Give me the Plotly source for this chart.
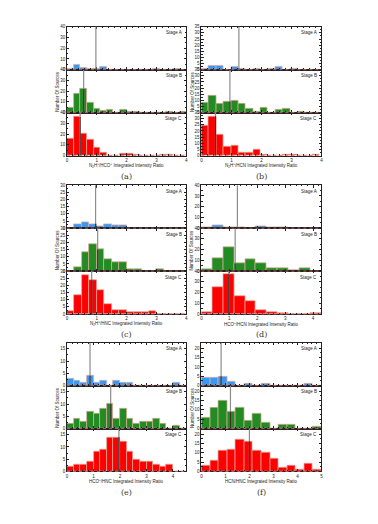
import plotly.graph_objects as go

# ---------------- data (counts per bin) ----------------
stages = ["Stage A", "Stage B", "Stage C"]
panel_labels = ["(a)", "(b)", "(c)", "(d)", "(e)", "(f)"]
x_titles = [
    "N<sub>2</sub>H<sup>+</sup>/HCO<sup>+</sup> Integrated Intensity Ratio",
    "N<sub>2</sub>H<sup>+</sup>/HCN Integrated Intensity Ratio",
    "N<sub>2</sub>H<sup>+</sup>/HNC Integrated Intensity Ratio",
    "HCO<sup>+</sup>/HCN Integrated Intensity Ratio",
    "HCO<sup>+</sup>/HNC Integrated Intensity Ratio",
    "HCN/HNC Integrated Intensity Ratio",
]

# bin widths per panel
bin_widths = [4 / 18, 0.246, 0.25, 0.39, 0.25, 5 / 14]
x_max = [4, 4, 4, 4.3, 4.5, 5]
y_max = [40, 35, 30, 40, 17.5, 23]
y_dtick = [10, 5, 5, 10, 5, 5]

a_A = [1, 5, 2, 1, 1, 3, 0, 0, 0, 0, 0, 0, 0, 1, 0, 0, 1, 0]
a_B = [5, 18, 22, 9, 4, 2, 3, 0, 3, 1, 1, 0, 0, 0, 0, 1, 0, 1]
a_C = [16, 36, 20, 15, 7, 3, 0, 0, 2, 2, 1, 0, 0, 0, 1, 1, 0, 0]
a_med = [0.97, 0.56, 0.44]

b_A = [1, 3, 3, 0, 2, 1, 0, 1, 0, 1, 2, 0, 1, 0, 0, 0]
b_B = [8, 14, 7, 9, 10, 7, 3, 1, 4, 0, 2, 3, 0, 1, 0, 0]
b_C = [24, 32, 17, 7, 8, 2, 2, 5, 1, 0, 0, 1, 1, 0, 0, 1]
b_med = [1.25, 0.95, 0.47]

c_A = [0, 3, 4, 3, 1, 3, 2, 2, 0, 0, 0, 0, 0, 0, 0, 0]
c_B = [0, 3, 13, 19, 15, 8, 6, 6, 1, 1, 0, 0, 1, 0, 0, 0]
c_C = [2, 13, 27, 24, 17, 7, 3, 3, 1, 1, 1, 2, 0, 0, 0, 0]
c_med = [0.96, 1.03, 0.83]

d_A = [1, 3, 1, 1, 0, 2, 1, 1, 0, 0, 0]
d_B = [2, 12, 22, 7, 11, 7, 3, 3, 1, 3, 0]
d_C = [2, 25, 37, 17, 12, 4, 2, 1, 0, 0, 1]
d_med = [1.29, 1.21, 0.98]

e_A = [3, 2, 1, 4, 1, 2, 0, 2, 1, 1, 0, 0, 0, 0, 0, 0, 1, 0]
e_B = [2, 4, 3, 7, 6, 8, 10, 4, 8, 4, 2, 3, 3, 4, 2, 0, 1, 0]
e_C = [2, 3, 3, 4, 8, 9, 14, 14, 12, 8, 5, 4, 4, 3, 2, 3, 0, 0]
e_med = [0.87, 1.65, 1.96]

f_A = [4, 4, 5, 2, 0, 1, 0, 1, 0, 0, 0, 0, 1, 0]
f_B = [6, 11, 15, 9, 11, 4, 8, 3, 0, 2, 2, 0, 0, 1]
f_C = [3, 6, 11, 12, 17, 16, 11, 10, 7, 2, 3, 1, 4, 1]
f_med = [0.82, 1.21, 2.0]

counts = [[a_A, a_B, a_C], [b_A, b_B, b_C], [c_A, c_B, c_C],
          [d_A, d_B, d_C], [e_A, e_B, e_C], [f_A, f_B, f_C]]
medians = [a_med, b_med, c_med, d_med, e_med, f_med]

# ---------------- layout geometry (pixels) ----------------
W, H = 378, 524
col_x = [(66.5, 186.7), (202.0, 323.0)]
row_y = [(25, 155), (185, 315), (344, 474)]
stage_colors = ["#3a98f5", "#228b22", "#ff0000"]
edge_color = "#dcac9c"
font_fam = "Liberation Sans, Arial, sans-serif"

fig = go.Figure()
layout = dict(width=W, height=H, margin=dict(l=0, r=0, t=0, b=0),
              paper_bgcolor="white", plot_bgcolor="white", showlegend=False,
              bargap=0)
shapes, annotations = [], []

k = 0
for p in range(6):
    col = p % 2
    row = p // 2
    x0, x1 = col_x[col]
    top, bot = row_y[row]
    sub_h = (bot - top) / 3.0
    bw = bin_widths[p]
    for s in range(3):
        k += 1
        xa = "x" if k == 1 else f"x{k}"
        ya = "y" if k == 1 else f"y{k}"
        xkey = "xaxis" if k == 1 else f"xaxis{k}"
        ykey = "yaxis" if k == 1 else f"yaxis{k}"
        st = top + s * sub_h
        sb = st + sub_h
        vals = counts[p][s]
        centers = [bw * (i + 0.5) for i in range(len(vals))]
        fig.add_trace(go.Bar(x=centers, y=vals, width=[bw] * len(vals),
                             marker=dict(color=stage_colors[s],
                                         line=dict(color=edge_color, width=0.7)),
                             xaxis=xa, yaxis=ya, hoverinfo="skip"))
        layout[xkey] = dict(domain=[x0 / W, x1 / W], range=[0, x_max[p]],
                            anchor=ya, showgrid=False, zeroline=False,
                            showline=True, linecolor="#222", linewidth=0.8,
                            mirror="ticks", ticks="inside", ticklen=2.5,
                            tickwidth=0.6, tickcolor="#222", dtick=1,
                            showticklabels=(s == 2),
                            tickfont=dict(size=4.5, family=font_fam, color="#222"),
                            minor=dict(ticks="inside", ticklen=1.3, dtick=0.2,
                                       tickcolor="#222", tickwidth=0.5))
        layout[ykey] = dict(domain=[1 - sb / H, 1 - st / H], range=[0, y_max[p]],
                            anchor=xa, showgrid=False, zeroline=False,
                            showline=True, linecolor="#222", linewidth=0.8,
                            mirror="ticks", ticks="inside", ticklen=2.5,
                            tickwidth=0.6, tickcolor="#222", dtick=y_dtick[p],
                            tickfont=dict(size=4.5, family=font_fam, color="#222"),
                            minor=dict(ticks="inside", ticklen=1.3,
                                       dtick=y_dtick[p] / 2,
                                       tickcolor="#222", tickwidth=0.5))
        # baseline outline of empty bins
        shapes.append(dict(type="line", xref=xa, yref=f"{ya} domain",
                           x0=0, x1=x_max[p], y0=0, y1=0,
                           line=dict(color="#e07070", width=0.8, dash="dot")))
        # median line: grey over the full height, darker where it crosses a bar
        m = medians[p][s]
        shapes.append(dict(type="line", xref=xa, yref=f"{ya} domain",
                           x0=m, x1=m, y0=0, y1=1,
                           line=dict(color="#8c8c8c", width=1.2)))
        bi = min(int(m / bw), len(vals) - 1)
        if vals[bi] > 0:
            shapes.append(dict(type="line", xref=xa, yref=ya,
                               x0=m, x1=m, y0=0, y1=vals[bi],
                               line=dict(color="#3a3030", width=1.1)))
        annotations.append(dict(text=stages[s], xref="paper", yref="paper",
                                x=(x1 - 2) / W, y=1 - (st + 1.5) / H,
                                xanchor="right", yanchor="top", showarrow=False,
                                font=dict(size=4.5, family=font_fam, color="#222")))
    # x title
    annotations.append(dict(text=x_titles[p], xref="paper", yref="paper",
                            x=((x0 + x1) / 2) / W, y=1 - (bot + 10) / H,
                            xanchor="center", yanchor="middle", showarrow=False,
                            font=dict(size=4.5, family=font_fam, color="#222")))
    # y title
    annotations.append(dict(text="Number Of Sources", xref="paper", yref="paper",
                            x=(x0 - 9.5) / W, y=1 - (top + 1.5 * sub_h) / H,
                            xanchor="center", yanchor="middle", showarrow=False,
                            textangle=-90,
                            font=dict(size=4.5, family=font_fam, color="#222")))
    # panel label
    annotations.append(dict(text=panel_labels[p], xref="paper", yref="paper",
                            x=((x0 + x1) / 2) / W, y=1 - (bot + 21) / H,
                            xanchor="center", yanchor="middle", showarrow=False,
                            font=dict(size=8, family="DejaVu Serif, serif",
                                      color="#333")))

layout["shapes"] = shapes
layout["annotations"] = annotations
fig.update_layout(**layout)
fig.write_html("out.html", config={"displayModeBar": False},
               post_script="document.body.style.margin='0';document.body.style.padding='0';")
